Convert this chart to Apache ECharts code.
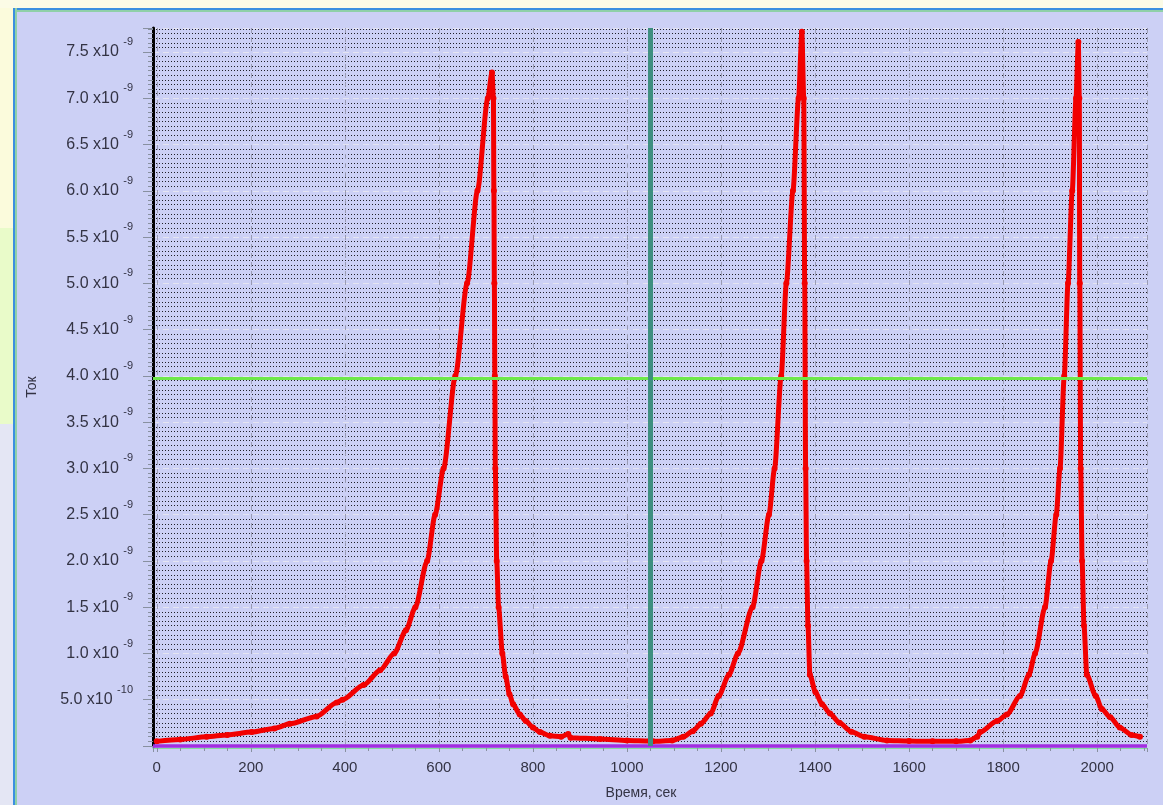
<html>
<meta charset="UTF-8">
<head>
<script src="https://cdn.jsdelivr.net/npm/echarts@6/dist/echarts.min.js"></script>
<style>
	body { margin: 0; background: #ccd0f5; }
</style>
</head>
<body>
	<div id="tokChart" style="width: 1163px; height: 805px"></div>
</body>
<script>
	// время, сек
	var timeSec = [0, 50, 106, 150, 202, 250, 283, 340, 383, 395, 440, 475, 505, 530, 550, 575, 592, 610, 635, 660,
		682, 704, 713, 716, 717, 718, 719, 720, 723, 727, 735, 742, 750, 758, 772, 785, 800, 815, 836, 860,
		875, 880, 943, 1000, 1049, 1055, 1096, 1120, 1140, 1157, 1178, 1195, 1217, 1236, 1267, 1286, 1302, 1314, 1328, 1339,
		1353, 1365, 1372, 1376, 1378, 1380, 1382, 1385, 1389, 1401, 1415, 1432, 1452, 1477, 1505, 1553, 1600, 1650, 1700, 1730,
		1745, 1751, 1787, 1808, 1836, 1855, 1868, 1889, 1902, 1913, 1921, 1930, 1938, 1947, 1955, 1960, 1962, 1963, 1965, 1968,
		1972, 1978, 1997, 2010, 2028, 2048, 2073, 2091];
	// ток, x10^-9
	var tokE9 = [0.05, 0.07, 0.10, 0.12, 0.15, 0.19, 0.24, 0.32, 0.47, 0.50, 0.66, 0.82, 1.0, 1.25, 1.5, 2.0, 2.5, 3.0, 4.0, 5.0,
		6.0, 7.0, 7.28, 7.0, 6.0, 5.0, 4.0, 3.0, 2.0, 1.5, 1.0, 0.75, 0.56, 0.45, 0.34, 0.27, 0.20, 0.15, 0.11, 0.10,
		0.13, 0.09, 0.075, 0.06, 0.055, 0.05, 0.06, 0.10, 0.16, 0.24, 0.35, 0.54, 0.77, 1.0, 1.5, 2.0, 2.5, 3.0, 4.0, 5.0,
		6.0, 7.0, 7.72, 7.0, 5.0, 3.0, 2.0, 1.3, 0.77, 0.58, 0.45, 0.35, 0.25, 0.155, 0.10, 0.06, 0.055, 0.05, 0.05, 0.06,
		0.10, 0.15, 0.27, 0.34, 0.54, 0.77, 1.0, 1.5, 2.0, 2.5, 3.0, 4.0, 5.0, 6.0, 7.0, 7.61, 7.0, 5.0, 3.0, 2.0,
		1.3, 0.77, 0.54, 0.40, 0.31, 0.20, 0.12, 0.10];
	var markerTime = 1050;   // вертикальный маркер
	var levelE9 = 3.97;      // порог
	var baseE9 = 0;

	var tokChart = echarts.init(document.getElementById('tokChart'));

	var points = [];
	for (var i = 0; i < timeSec.length; i++) {
		points.push([timeSec[i], tokE9[i]]);
	}

	function yLabel(v) {
		if (v <= 0.01 || v > 7.6) return '';
		if (v < 1) {
			return '{m|' + (v * 10).toFixed(1) + ' x10 }{e|-10}';
		}
		return '{m|' + v.toFixed(1) + ' x10 }{e|-9}';
	}

	var font = 'Liberation Sans, Arial, sans-serif';

	var option = {
		backgroundColor: '#ccd0f5',
		animation: false,
		graphic: [
			{ type: 'rect', left: 0, top: 0, shape: { width: 14, height: 228 }, style: { fill: '#fbfbdc' } },
			{ type: 'rect', left: 0, top: 228, shape: { width: 14, height: 196 }, style: { fill: '#e9fbc9' } },
			{ type: 'rect', left: 0, top: 424, shape: { width: 14, height: 381 }, style: { fill: '#e4e6f4' } },
			{ type: 'rect', left: 0, top: 0, shape: { width: 1163, height: 8 }, style: { fill: '#fbfbe6' } },
			{ type: 'rect', left: 14, top: 8, shape: { width: 1149, height: 2 }, style: { fill: '#3b8fe0' } },
			{ type: 'rect', left: 14, top: 10, shape: { width: 1149, height: 2 }, style: { fill: '#8fd0a8' } },
			{ type: 'rect', left: 13, top: 8, shape: { width: 2, height: 797 }, style: { fill: '#3b8fe0' } },
			{ type: 'rect', left: 15, top: 8, shape: { width: 2, height: 797 }, style: { fill: '#8fd0a8' } }
		],
		grid: {
			left: 153,
			right: 16,
			top: 28,
			bottom: 53
		},
		xAxis: {
			type: 'value',
			min: -8,
			max: 2106,
			splitNumber: 10,
			offset: 2,
			name: 'Время, сек',
			nameLocation: 'middle',
			nameGap: 38,
			nameTextStyle: { fontFamily: font, fontSize: 14, color: '#333344', padding: [0, 18, 0, 0] },
			axisLine: { show: true, onZero: false, lineStyle: { color: '#86dca0', width: 1 } },
			axisTick: { show: true, length: 4, lineStyle: { color: '#8890a0' } },
			minorTick: { show: true, splitNumber: 4, length: 3, lineStyle: { color: '#8890a0' } },
			axisLabel: {
				margin: 12,
				fontFamily: font,
				fontSize: 15,
				color: '#333344',
				showMinLabel: false,
				showMaxLabel: false,
				formatter: function (v) { return String(v); }
			},
			splitLine: { show: true, lineStyle: { color: '#9a9cb4', type: [5, 4], width: 1 } }
		},
		yAxis: {
			type: 'value',
			min: 0,
			max: 7.76,
			interval: 0.5,
			name: 'Ток',
			nameLocation: 'middle',
			nameGap: 114,
			nameTextStyle: { fontFamily: font, fontSize: 14, color: '#333344' },
			axisLine: { show: true, onZero: false, lineStyle: { color: '#000000', width: 3 } },
			axisTick: { show: true, length: 10, lineStyle: { color: '#8890a0' } },
			minorTick: { show: true, splitNumber: 10, length: 5, lineStyle: { color: '#8890a0' } },
			axisLabel: {
				margin: 20,
				showMaxLabel: false,
				formatter: yLabel,
				rich: {
					m: { fontFamily: font, fontSize: 16, color: '#333344', lineHeight: 18, verticalAlign: 'middle' },
					e: { fontFamily: font, fontSize: 11, color: '#333344', lineHeight: 12, verticalAlign: 'middle', padding: [0, 0, 20, 0] }
				}
			},
			splitLine: { show: true, lineStyle: { color: '#e4e4f2', type: [6, 4], width: 1 } },
			minorSplitLine: { show: true, lineStyle: { color: '#15151c', type: [1, 2], width: 1, opacity: 0.95 } }
		},
		series: [
			{
				name: 'base',
				type: 'line',
				data: [],
				z: 5,
				markLine: {
					silent: true,
					symbol: 'none',
					label: { show: false },
					lineStyle: { color: '#a22ee0', width: 3.5, type: 'solid' },
					data: [{ yAxis: baseE9 }]
				}
			},
			{
				name: 'level',
				type: 'line',
				data: [],
				z: 2,
				markLine: {
					silent: true,
					symbol: 'none',
					label: { show: false },
					lineStyle: { color: '#6ee84a', width: 3, type: 'solid' },
					data: [{ yAxis: levelE9 }]
				}
			},
			{
				name: 'Ток',
				type: 'line',
				data: points,
				z: 3,
				smooth: 0.25,
				smoothMonotone: 'x',
				showSymbol: true,
				showAllSymbol: true,
				symbol: 'circle',
				symbolSize: 6,
				itemStyle: { color: '#f20000' },
				lineStyle: { color: '#f20000', width: 5 }
			},
			{
				name: 'marker',
				type: 'line',
				data: [],
				z: 4,
				markLine: {
					silent: true,
					symbol: 'none',
					label: { show: false },
					lineStyle: { color: '#3f8f80', width: 5, type: 'solid' },
					data: [{ xAxis: markerTime }]
				}
			}
		]
	};
	tokChart.setOption(option);
</script>
</html>
